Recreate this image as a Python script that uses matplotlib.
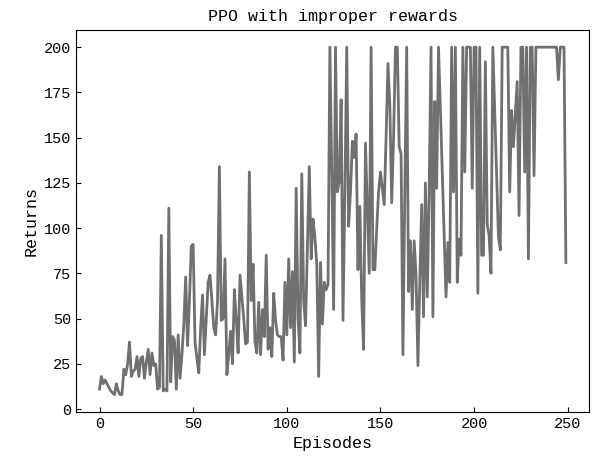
import numpy as np
import matplotlib
matplotlib.use("Agg")
import matplotlib.pyplot as plt

# Returns per episode
returns = [
    11, 18, 14, 16, 14, 12, 10, 9, 8, 14,
    10, 8, 8, 22, 19, 25, 37, 18, 21, 22,
    29, 18, 28, 29, 17, 26, 33, 19, 31, 24,
    25, 11, 12, 96, 10, 11, 10, 111, 15, 40,
    38, 11, 41, 17, 30, 47, 73, 35, 60, 90,
    91, 37, 28, 20, 45, 63, 30, 50, 70, 74,
    60, 45, 41, 60, 134, 49, 50, 83, 19, 30,
    43, 25, 66, 50, 31, 74, 62, 50, 36, 37,
    131, 60, 80, 37, 31, 59, 30, 55, 40, 85,
    33, 45, 29, 64, 49, 41, 40, 40, 27, 70,
    41, 83, 45, 76, 26, 122, 50, 31, 130, 60,
    46, 90, 134, 83, 105, 95, 80, 18, 81, 47,
    70, 66, 69, 200, 131, 55, 200, 120, 126, 171,
    49, 120, 200, 101, 120, 148, 139, 152, 77, 112,
    60, 33, 147, 110, 75, 200, 77, 77, 100, 120,
    131, 122, 113, 150, 191, 168, 114, 150, 200, 200,
    145, 141, 30, 120, 200, 65, 93, 55, 93, 74,
    24, 70, 113, 51, 125, 62, 120, 200, 51, 170,
    122, 200, 165, 130, 95, 62, 92, 70, 200, 120,
    200, 70, 94, 85, 200, 131, 200, 200, 200, 122,
    200, 200, 64, 200, 85, 85, 192, 102, 96, 75,
    200, 165, 130, 95, 88, 200, 200, 200, 200, 120,
    165, 145, 163, 181, 107, 200, 200, 131, 200, 83,
    200, 200, 129, 200, 200, 200, 200, 200, 200, 200,
    200, 200, 200, 200, 200, 182, 200, 200, 200, 81,
]
episodes = np.arange(len(returns))

plt.rcParams['font.family'] = ['Liberation Mono', 'DejaVu Sans Mono']

fig = plt.figure(figsize=(6, 4.66), dpi=100)
ax = fig.add_axes([0.127, 0.116, 0.855, 0.82])

ax.plot(episodes, returns, color="#707070", linewidth=2)

ax.set_title("PPO with improper rewards", fontsize=12)
ax.set_xlabel("Episodes", fontsize=12)
ax.set_ylabel("Returns", fontsize=12)
ax.set_xticks([0, 50, 100, 150, 200, 250])
ax.set_yticks([0, 25, 50, 75, 100, 125, 150, 175, 200])
ax.tick_params(direction="in", labelsize=11, top=False, right=False)

fig.savefig("out.png", dpi=100)
